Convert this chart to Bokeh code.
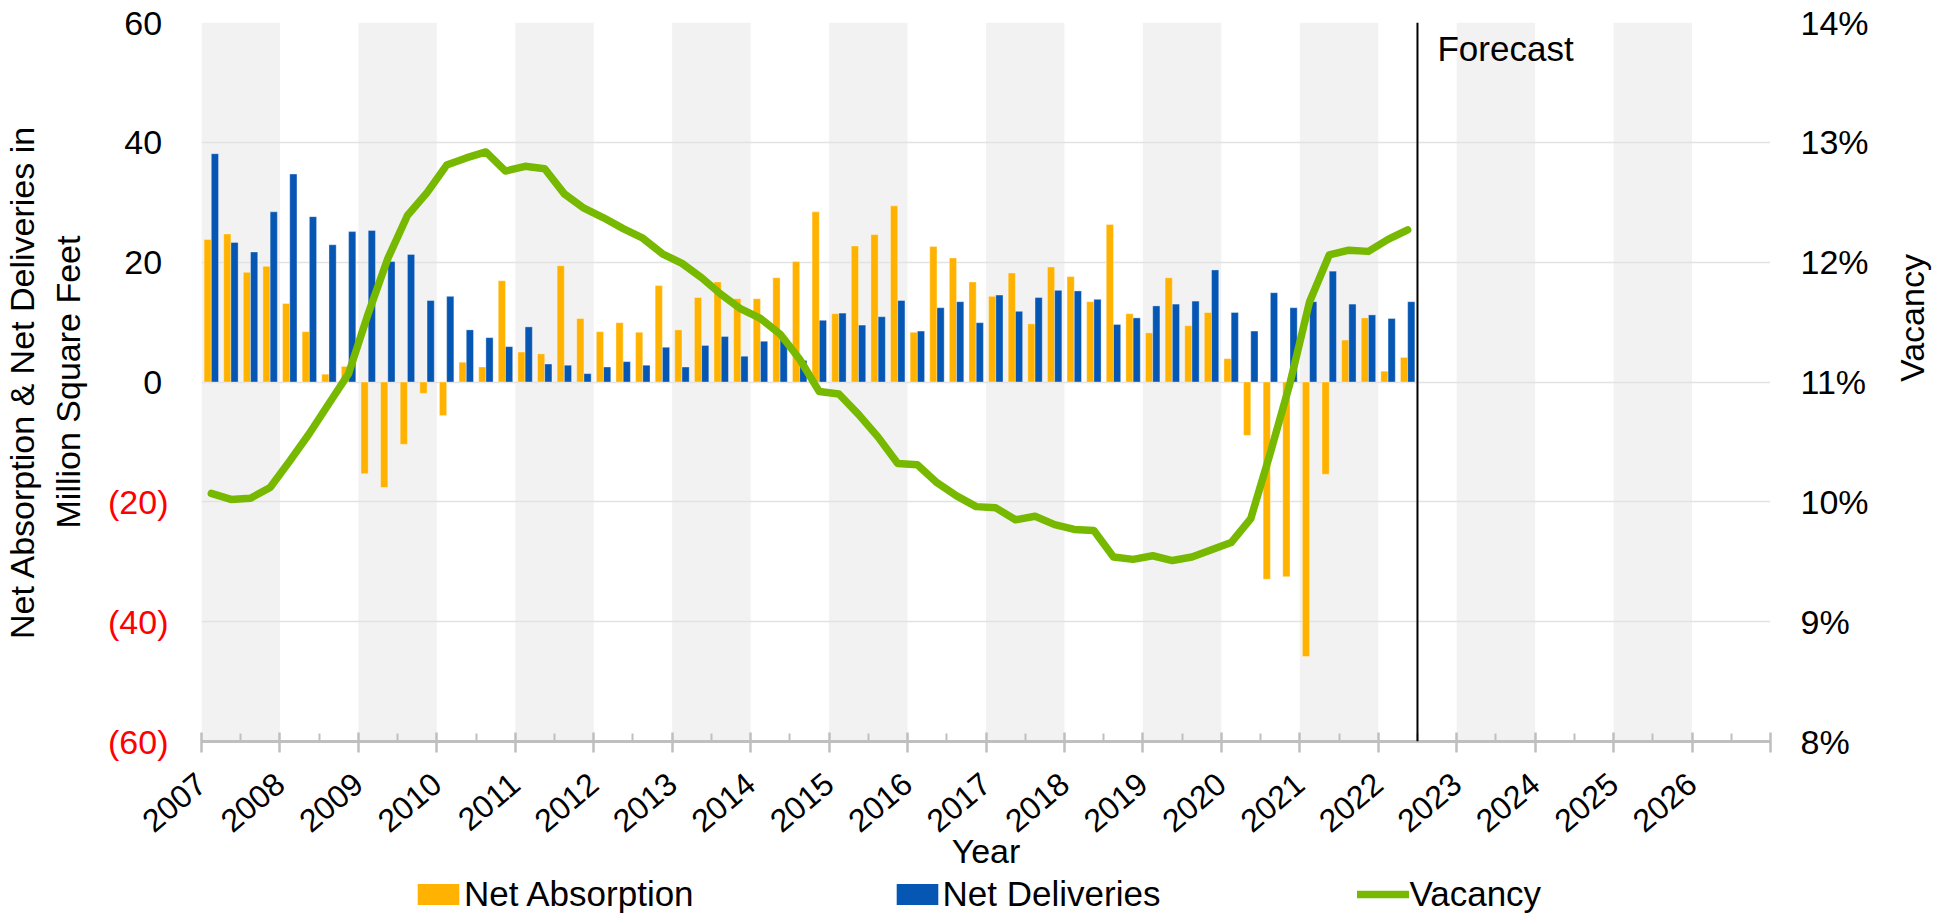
import math
from bokeh.plotting import figure
from bokeh.layouts import column
from bokeh.models import (ColumnDataSource, Range1d, LinearAxis, FixedTicker, Span,
                          Label, Legend, LegendItem)
from bokeh.embed import file_html
from bokeh.resources import INLINE

# ---------------- data ----------------
quarters = [f"{y}Q{q}" for y in range(2007, 2023) for q in range(1, 5)][:62]

net_absorption = [
    23.8, 24.7, 18.3, 19.3,
    13.1, 8.4, 1.3, 2.6,
    -15.3, -17.6, -10.4, -1.9,
    -5.6, 3.3, 2.5, 16.9,
    5.0, 4.7, 19.4, 10.6,
    8.4, 9.9, 8.3, 16.1,
    8.7, 14.1, 16.7, 13.9,
    13.9, 17.4, 20.1, 28.4,
    11.4, 22.7, 24.6, 29.4,
    8.3, 22.6, 20.7, 16.7,
    14.3, 18.2, 9.7, 19.2,
    17.6, 13.4, 26.3, 11.4,
    8.2, 17.4, 9.4, 11.6,
    3.9, -8.9, -32.9, -32.5,
    -45.8, -15.4, 7.0, 10.7,
    1.8, 4.1,
]

net_deliveries = [
    38.1, 23.3, 21.7, 28.4,
    34.7, 27.6, 22.9, 25.1,
    25.3, 20.1, 21.3, 13.6,
    14.3, 8.7, 7.4, 5.9,
    9.2, 3.0, 2.8, 1.4,
    2.5, 3.4, 2.8, 5.8,
    2.5, 6.1, 7.6, 4.3,
    6.8, 7.4, 3.6, 10.3,
    11.5, 9.5, 10.9, 13.6,
    8.5, 12.4, 13.4, 9.9,
    14.5, 11.8, 14.1, 15.3,
    15.2, 13.8, 9.6, 10.7,
    12.7, 13.0, 13.5, 18.7,
    11.6, 8.5, 14.9, 12.4,
    13.4, 18.5, 13.0, 11.2,
    10.6, 13.4,
]

vacancy = [
    10.07, 10.02, 10.03, 10.12,
    10.34, 10.57, 10.82, 11.07,
    11.57, 12.03, 12.39, 12.58,
    12.81, 12.87, 12.92, 12.76,
    12.80, 12.78, 12.57, 12.45,
    12.37, 12.28, 12.20, 12.07,
    11.99, 11.87, 11.73, 11.61,
    11.53, 11.40, 11.19, 10.92,
    10.90, 10.73, 10.54, 10.32,
    10.31, 10.16, 10.05, 9.96,
    9.95, 9.85, 9.88, 9.81,
    9.77, 9.76, 9.54, 9.52,
    9.55, 9.51, 9.54, 9.60,
    9.66, 9.86, 10.41, 10.99,
    11.67, 12.06, 12.10, 12.09,
    12.19, 12.27,
]

left_ticks = [-60, -40, -20, 0, 20, 40, 60]
left_tick_labels = ["(60)", "(40)", "(20)", "0", "20", "40", "60"]
right_ticks = [8, 9, 10, 11, 12, 13, 14]
right_tick_labels = ["8%", "9%", "10%", "11%", "12%", "13%", "14%"]
year_ticks = list(range(2007, 2028))
year_labels = [str(y) for y in range(2007, 2027)] + [""]
forecast_start = 2022.5

FONT = "Liberation Sans"
ORANGE = "#FFB300"
BLUE = "#0656B4"
GREEN = "#76B900"

# ---------------- positions ----------------
qx = [int(q[:4]) + (int(q[-1]) - 0.5) / 4 for q in quarters]
bar_w = 0.092
src = ColumnDataSource(dict(
    xa=[x - bar_w / 2 for x in qx],
    xd=[x + bar_w / 2 for x in qx],
    xc=qx,
    absorption=net_absorption,
    deliveries=net_deliveries,
    vacancy=vacancy,
))

band_years = [y for y in year_ticks[:-1] if (y - year_ticks[0]) % 2 == 0]
bands = ColumnDataSource(dict(left=band_years, right=[y + 1 for y in band_years]))

W = 1952
H_MAIN, H_LEG = 874, 40
FRAME_L, FRAME_R, FRAME_T, FRAME_B = 197, 1771, 22, 741

# ---------------- main figure ----------------
p = figure(width=W, height=H_MAIN,
           x_range=Range1d(year_ticks[0], year_ticks[-1]),
           y_range=Range1d(left_ticks[0], left_ticks[-1]),
           output_backend="svg", toolbar_location=None,
           min_border_left=FRAME_L, min_border_right=W - FRAME_R,
           min_border_top=FRAME_T, min_border_bottom=H_MAIN - FRAME_B)
p.outline_line_color = None
p.background_fill_color = "white"
p.extra_y_ranges = {"vac": Range1d(right_ticks[0], right_ticks[-1])}

# background bands
p.quad(left="left", right="right", bottom=left_ticks[0], top=left_ticks[-1], source=bands,
       fill_color="#f2f2f2", line_color=None, level="image")

# grid
p.xgrid.visible = False
p.ygrid.ticker = FixedTicker(ticks=left_ticks)
p.ygrid.grid_line_color = "#e2e2e2"
p.ygrid.grid_line_width = 1.5

# bars
r_abs = p.vbar(x="xa", top="absorption", bottom=0, width=bar_w, source=src,
               fill_color=ORANGE, line_color="white", line_alpha=0.35, line_width=1)
r_del = p.vbar(x="xd", top="deliveries", bottom=0, width=bar_w, source=src,
               fill_color=BLUE, line_color="white", line_alpha=0.35, line_width=1)

# vacancy line
r_vac = p.line(x="xc", y="vacancy", source=src, y_range_name="vac",
               line_color=GREEN, line_width=7.5, line_join="round", line_cap="round")

# forecast divider
p.add_layout(Span(location=forecast_start, dimension="height", line_color="black", line_width=2))
p.add_layout(Label(x=forecast_start, y=left_ticks[-1], x_offset=20, y_offset=-6,
                   text="Forecast", text_align="left", text_baseline="top",
                   text_font=FONT, text_font_size="35px", text_color="black"))


def style_plain_axis(ax, standoff, size="34px", color="black"):
    ax.axis_line_color = None
    ax.major_tick_line_color = None
    ax.minor_tick_line_color = None
    ax.major_tick_out = 0
    ax.major_tick_in = 0
    ax.minor_tick_out = 0
    ax.minor_tick_in = 0
    ax.major_label_standoff = standoff
    ax.major_label_text_font = FONT
    ax.major_label_text_font_size = size
    ax.major_label_text_color = color


def style_title(ax, standoff):
    ax.axis_label_text_font = FONT
    ax.axis_label_text_font_size = "34px"
    ax.axis_label_text_font_style = "normal"
    ax.axis_label_text_color = "black"
    ax.axis_label_standoff = standoff


# inner left axis: non-negative labels, black (accounting style trailing space)
yax = p.yaxis[0]
yax.ticker = FixedTicker(ticks=[t for t in left_ticks if t >= 0])
yax.major_label_overrides = {t: lab + "\u00a0" for t, lab in zip(left_ticks, left_tick_labels) if t >= 0}
style_plain_axis(yax, 30)

# outer left axis: negative labels in red, pulled back over the inner axis, carries the title
neg_ax = LinearAxis(ticker=FixedTicker(ticks=[t for t in left_ticks if t < 0]),
                    major_label_overrides={t: lab for t, lab in zip(left_ticks, left_tick_labels) if t < 0})
style_plain_axis(neg_ax, -47, color="#FF0000")
neg_ax.axis_label = "Net Absorption & Net Deliveries in\nMillion Square Feet"
style_title(neg_ax, 18)
p.add_layout(neg_ax, "left")

# right axis
rax = LinearAxis(y_range_name="vac", ticker=FixedTicker(ticks=right_ticks),
                 major_label_overrides={t: lab for t, lab in zip(right_ticks, right_tick_labels)})
style_plain_axis(rax, 30)
rax.axis_label = "Vacancy"
style_title(rax, 40)
if "axis_label_orientation" in rax.properties():
    rax.axis_label_orientation = math.pi / 2
p.add_layout(rax, "right")

# bottom axis
xax = p.xaxis[0]
xax.ticker = FixedTicker(ticks=year_ticks, minor_ticks=[y + 0.5 for y in year_ticks[:-1]])
xax.major_label_overrides = {t: lab for t, lab in zip(year_ticks, year_labels)}
xax.major_label_orientation = math.radians(40)
xax.axis_line_color = "#bfbfbf"
xax.axis_line_width = 3
xax.major_tick_line_color = "#bfbfbf"
xax.major_tick_line_width = 2.5
xax.major_tick_in = 9
xax.major_tick_out = 11
xax.minor_tick_line_color = "#bfbfbf"
xax.minor_tick_line_width = 2
xax.minor_tick_in = 8
xax.minor_tick_out = 0
xax.major_label_standoff = 27
xax.major_label_text_font = FONT
xax.major_label_text_font_size = "32px"
xax.major_label_text_color = "black"
xax.axis_label = "Year"
style_title(xax, -13)

# ---------------- legend strip ----------------
# same x range as the chart; y range far above the data so the key series stay out of view
pl = figure(width=W, height=H_LEG,
            x_range=Range1d(year_ticks[0], year_ticks[-1]), y_range=Range1d(100, 101),
            output_backend="svg", toolbar_location=None,
            min_border_left=FRAME_L, min_border_right=W - FRAME_R,
            min_border_top=0, min_border_bottom=0)
pl.axis.visible = False
pl.grid.visible = False
pl.outline_line_color = None
l_abs = pl.vbar(x="xa", top="absorption", width=bar_w, source=src, fill_color=ORANGE, line_color=None)
l_del = pl.vbar(x="xd", top="deliveries", width=bar_w, source=src, fill_color=BLUE, line_color=None)
l_vac = pl.line(x="xc", y="vacancy", source=src, line_color=GREEN, line_width=7.5, line_cap="round")
legend = Legend(items=[LegendItem(label="Net Absorption", renderers=[l_abs]),
                       LegendItem(label="Net Deliveries", renderers=[l_del]),
                       LegendItem(label="Vacancy", renderers=[l_vac])],
                orientation="horizontal", location=(408 - FRAME_L, 0),
                glyph_width=52, glyph_height=26, label_height=20, label_standoff=-6, spacing=197,
                padding=0, margin=0, border_line_color=None, background_fill_alpha=0,
                label_text_font=FONT, label_text_font_size="35px", label_text_color="black")
pl.add_layout(legend)

layout = column(p, pl, spacing=0)
open("out.html", "w").write(file_html(layout, INLINE))
